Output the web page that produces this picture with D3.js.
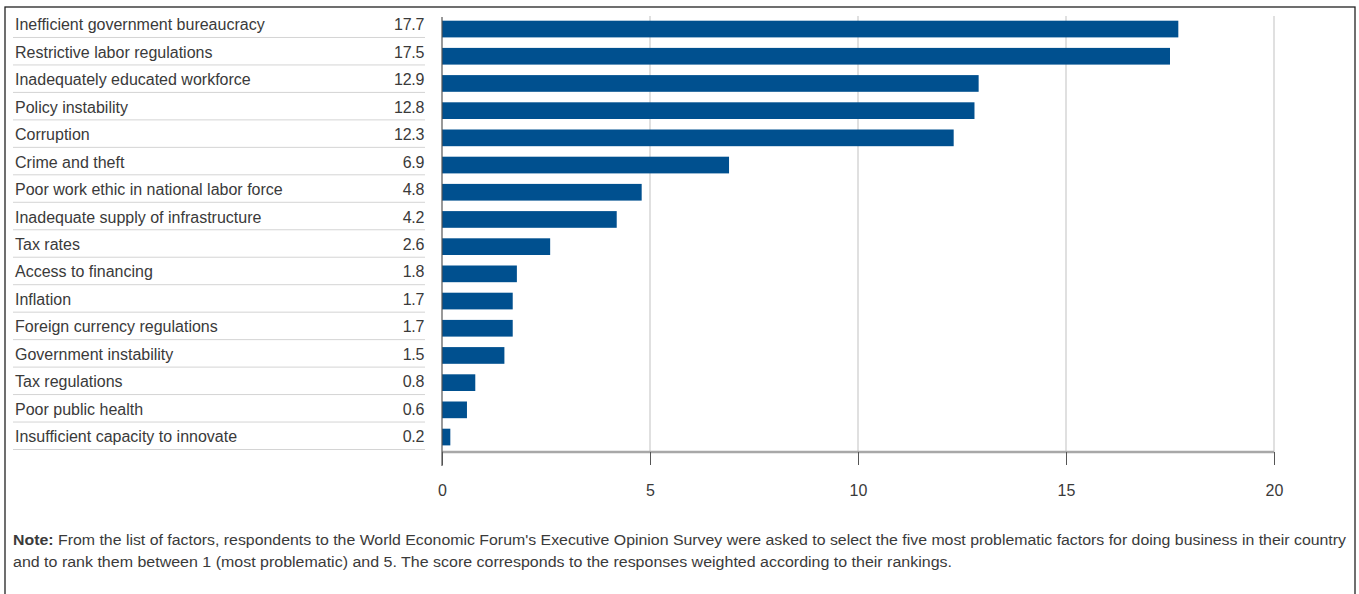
<!DOCTYPE html>
<html>
<head>
<meta charset="utf-8">
<script src="https://cdn.jsdelivr.net/npm/d3@7"></script>
<style>
  html, body { margin: 0; padding: 0; background: #fff; }
  svg { display: block; }
  text { font-family: "Liberation Sans", Arial, Helvetica, sans-serif; fill: #3a3a3a; }
</style>
</head>
<body>
<svg id="chart" width="1359" height="594"></svg>
<script>
const categories = [
  "Inefficient government bureaucracy",
  "Restrictive labor regulations",
  "Inadequately educated workforce",
  "Policy instability",
  "Corruption",
  "Crime and theft",
  "Poor work ethic in national labor force",
  "Inadequate supply of infrastructure",
  "Tax rates",
  "Access to financing",
  "Inflation",
  "Foreign currency regulations",
  "Government instability",
  "Tax regulations",
  "Poor public health",
  "Insufficient capacity to innovate"
];
const values = [17.7, 17.5, 12.9, 12.8, 12.3, 6.9, 4.8, 4.2, 2.6, 1.8, 1.7, 1.7, 1.5, 0.8, 0.6, 0.2];
const xTicks = [0, 5, 10, 15, 20];
const noteLines = [
  "From the list of factors, respondents to the World Economic Forum's Executive Opinion Survey were asked to select the five most problematic factors for doing business in their country",
  "and to rank them between 1 (most problematic) and 5. The score corresponds to the responses weighted according to their rankings."
];

const svg = d3.select("#chart");

// frame
svg.append("rect")
  .attr("x", 5).attr("y", 7).attr("width", 1350).attr("height", 620)
  .attr("fill", "none").attr("stroke", "#222").attr("stroke-width", 1.3);

const x = d3.scaleLinear().domain([0, 20]).range([442, 1274]);
const yRow = d3.scaleBand().domain(categories).range([10.5, 450]);
const yBar = d3.scaleBand().domain(categories).range([20.7, 445.4]).paddingInner(0.386).paddingOuter(0);

// gridlines
svg.append("g").selectAll("line").data(xTicks.filter(d => d > 0)).join("line")
  .attr("x1", d => x(d)).attr("x2", d => x(d))
  .attr("y1", 16).attr("y2", 452)
  .attr("stroke", "#cfcfcf").attr("stroke-width", 1.3);

// table rows: separators, labels, values
const rows = svg.append("g");
rows.selectAll("line").data(categories).join("line")
  .attr("x1", 13).attr("x2", 425)
  .attr("y1", d => yRow(d) + yRow.bandwidth() - 0.5)
  .attr("y2", d => yRow(d) + yRow.bandwidth() - 0.5)
  .attr("stroke", "#d4d4d4").attr("stroke-width", 1);

rows.selectAll("text.cat").data(categories).join("text")
  .attr("class", "cat")
  .attr("x", 15)
  .attr("y", d => yRow(d) + yRow.bandwidth() / 2 + 6)
  .attr("font-size", 16)
  .text(d => d);

rows.selectAll("text.val").data(values).join("text")
  .attr("class", "val")
  .attr("x", 424)
  .attr("text-anchor", "end")
  .attr("y", (d, i) => yRow(categories[i]) + yRow.bandwidth() / 2 + 6)
  .attr("font-size", 16)
  .style("letter-spacing", "-0.3px")
  .text(d => d.toFixed(1));

// bars
svg.append("g").selectAll("rect").data(values).join("rect")
  .attr("x", x(0))
  .attr("y", (d, i) => yBar(categories[i]))
  .attr("width", d => x(d) - x(0))
  .attr("height", yBar.bandwidth())
  .attr("fill", "#00508f");

// x axis
const axis = d3.axisBottom(x).tickValues(xTicks).tickSize(13).tickPadding(20).tickFormat(d3.format("d"));
const ax = svg.append("g").attr("transform", "translate(0,452)").call(axis);
ax.select(".domain").attr("stroke", "#a8a8a8").attr("stroke-width", 2.5).attr("d", `M${x(0)},0H${x(20)}`);
ax.selectAll(".tick line").attr("stroke", "#555").attr("stroke-width", 1);
ax.selectAll(".tick text").attr("font-size", 16)
  .style("font-family", "'Liberation Sans', Arial, sans-serif").attr("fill", "#3a3a3a");

// vertical y-axis line
svg.append("line")
  .attr("x1", x(0)).attr("x2", x(0)).attr("y1", 17).attr("y2", 466)
  .attr("stroke", "#555").attr("stroke-width", 1.2);

// note
const note = svg.append("g");
const t1 = note.append("text").attr("x", 13).attr("y", 545).attr("font-size", 14)
  .attr("textLength", 1333).attr("lengthAdjust", "spacingAndGlyphs");
t1.append("tspan").attr("font-weight", "bold").text("Note: ");
t1.append("tspan").text(noteLines[0]);
note.append("text").attr("x", 13).attr("y", 567).attr("font-size", 14)
  .attr("textLength", 939).attr("lengthAdjust", "spacingAndGlyphs")
  .text(noteLines[1]);
</script>
</body>
</html>
